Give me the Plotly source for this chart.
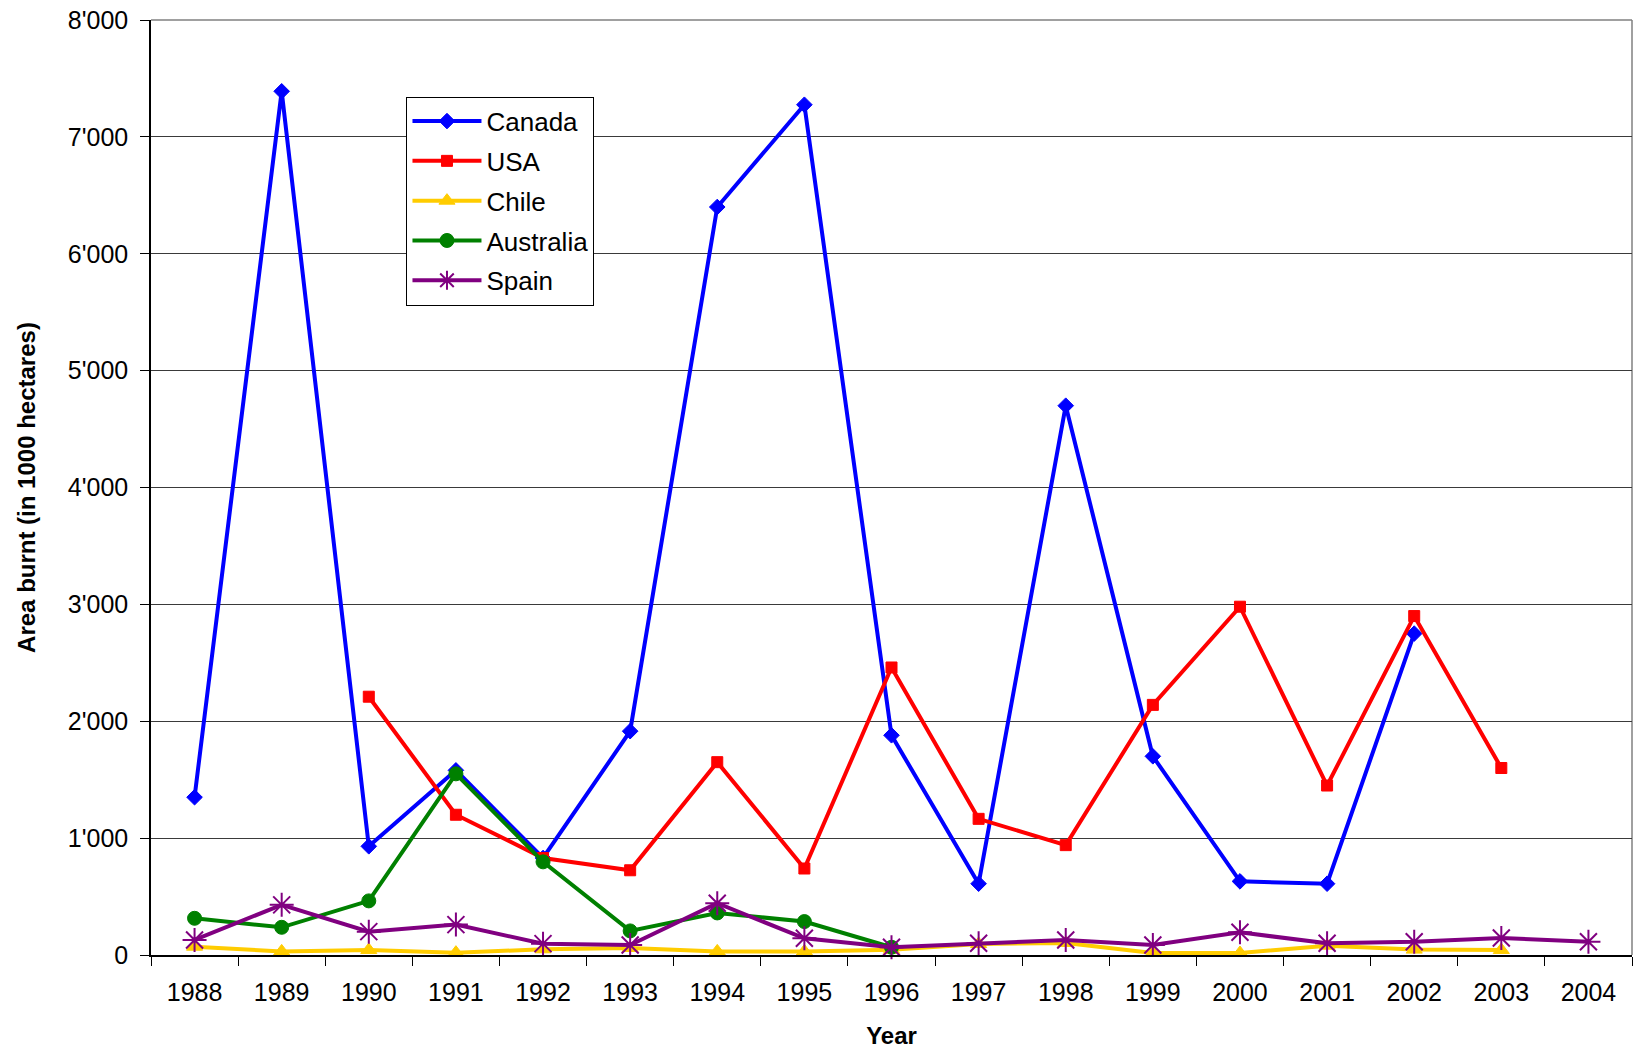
import plotly.graph_objects as go

years = [str(y) for y in range(1988, 2005)]

canada = [1350, 7390, 930, 1580, 830, 1915, 6400, 7275, 1880, 610, 4700, 1700, 630, 610, 2750, None, None]
usa = [None, None, 2210, 1200, 830, 725, 1650, 740, 2460, 1165, 940, 2140, 2980, 1450, 2900, 1600, None]
chile = [71, 31, 43, 20, 49, 60, 31, 31, 45, 94, 103, 17, 17, 80, 46, 43, None]
australia = [314, 237, 463, 1550, 797, 206, 360, 286, 66, None, None, None, None, None, None, None, None]
spain = [129, 429, 200, 260, 97, 86, 443, 143, 66, 100, 129, 86, 194, 100, 114, 146, 114]

ytick_vals = [0, 1000, 2000, 3000, 4000, 5000, 6000, 7000, 8000]
ytick_text = ["0", "1'000", "2'000", "3'000", "4'000", "5'000", "6'000", "7'000", "8'000"]

FONT = "Liberation Sans, Arial, sans-serif"

series = [
    ("Canada", canada, "#0000FF", "diamond", 12, 1),
    ("USA", usa, "#FF0000", "square", 11, 1),
    ("Chile", chile, "#FFCC00", "triangle-up", 14, 1),
    ("Australia", australia, "#008000", "circle", 14, 1),
    ("Spain", spain, "#800080", "asterisk-open", 20, 2),
]

fig = go.Figure()
for i, (name, vals, color, sym, size, lw) in enumerate(series):
    fig.add_trace(go.Scatter(
        x=years, y=vals, name=name, mode="lines+markers",
        line=dict(color=color, width=4),
        marker=dict(symbol=sym, size=size, color=color, line=dict(color=color, width=lw)),
        cliponaxis=False, connectgaps=False,
        legendgroup=f"g{i}",
    ))

fig.update_layout(
    width=1640, height=1049,
    margin=dict(l=151, r=8, t=20, b=94),
    paper_bgcolor="white", plot_bgcolor="white",
    font=dict(family=FONT, size=25, color="black"),
    showlegend=True,
    legend=dict(
        x=0.1725, y=0.918, xanchor="left", yanchor="top",
        bgcolor="white", bordercolor="black", borderwidth=1,
        font=dict(family=FONT, size=26, color="black"),
        traceorder="grouped", tracegroupgap=3, itemwidth=69,
    ),
    xaxis=dict(
        type="category", range=[-0.5, 16.5], showgrid=False, automargin=False,
        showline=True, linecolor="black", linewidth=1.5,
        ticks="outside", tickson="boundaries", ticklen=9, tickcolor="black",
        tickfont=dict(size=25), ticklabelstandoff=14,
        title=dict(text="<b>Year</b>", font=dict(size=24), standoff=23),
    ),
    yaxis=dict(
        range=[0, 8000], tickvals=ytick_vals, ticktext=ytick_text, automargin=False,
        showgrid=True, gridcolor="#3a3a3a", gridwidth=1,
        showline=True, linecolor="black", linewidth=1.5,
        ticks="outside", ticklen=9, tickcolor="black",
        tickfont=dict(size=25), zeroline=False, ticklabelstandoff=7,
        ticklabeloverflow="allow",
        title=dict(text="<b>Area burnt (in 1000 hectares)</b>", font=dict(size=24), standoff=25),
    ),
    shapes=[
        dict(type="line", xref="paper", yref="paper", x0=1, x1=1, y0=0, y1=1,
             line=dict(color="#808080", width=1.5), layer="below"),
        dict(type="line", xref="paper", yref="paper", x0=0, x1=1, y0=1, y1=1,
             line=dict(color="#808080", width=1.5), layer="below"),
    ],
)

# remove the browser's default 8px body margin so the figure fills the window exactly
fig.write_html("out.html", config={"displayModeBar": False},
               post_script="document.body.style.margin='0';")
